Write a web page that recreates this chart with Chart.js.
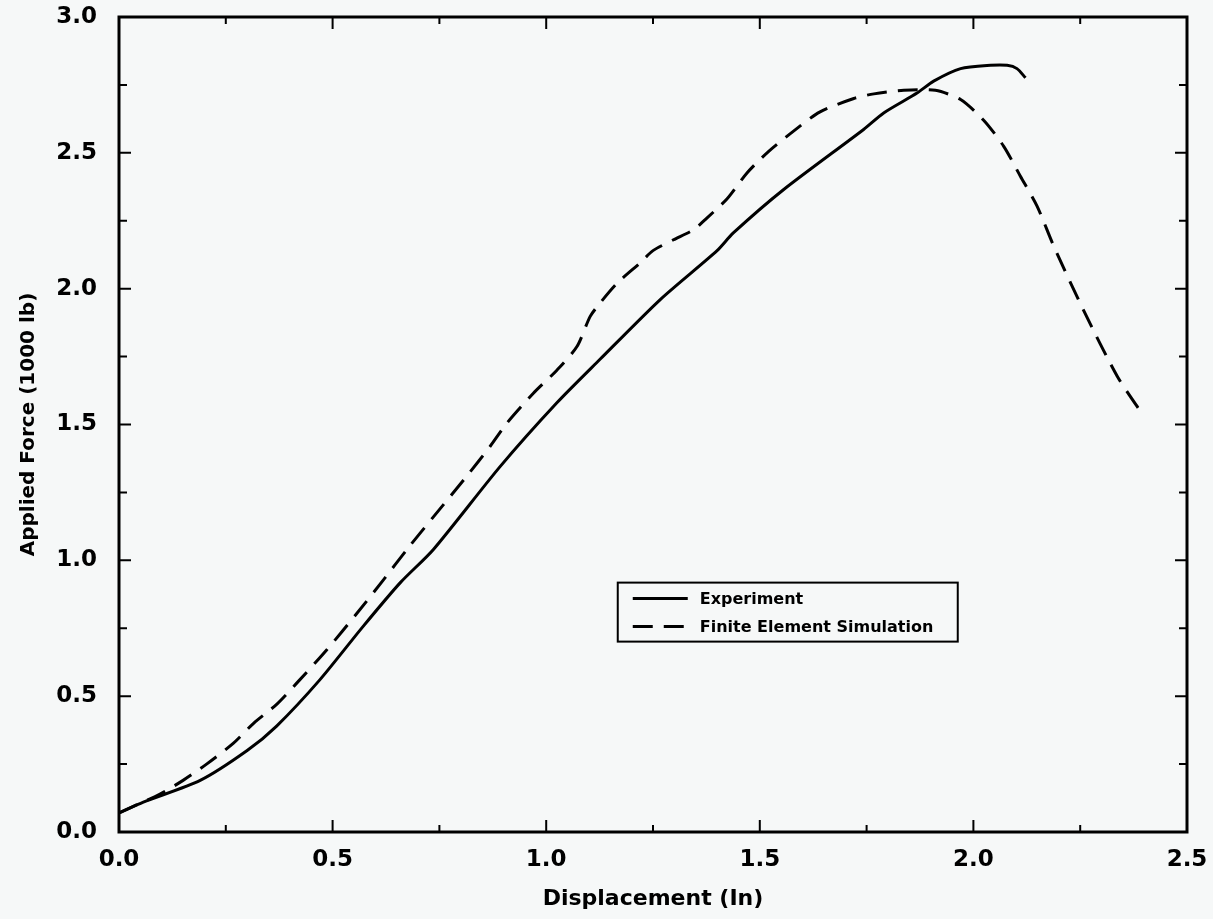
<!DOCTYPE html>
<html>
<head>
<meta charset="utf-8">
<title>Applied Force vs Displacement</title>
<script src="https://cdn.jsdelivr.net/npm/chart.js@4/dist/chart.umd.min.js"></script>
<style>
  html, body { margin: 0; padding: 0; background: #f6f8f8; }
  #wrap { width: 1213px; height: 919px; }
</style>
</head>
<body>
<div id="wrap"><canvas id="forceChart" width="1213" height="919"></canvas></div>
<script>
// measured test curve
const expDisp  = [0.0, 0.057, 0.19, 0.30, 0.369, 0.47, 0.571, 0.658, 0.736, 0.892, 1.025, 1.126, 1.267, 1.40, 1.438, 1.556, 1.743, 1.79, 1.868, 1.907, 1.97, 2.04, 2.079, 2.102, 2.122];
const expForce = [0.07, 0.11, 0.19, 0.30, 0.39, 0.56, 0.756, 0.917, 1.04, 1.345, 1.58, 1.74, 1.96, 2.14, 2.205, 2.365, 2.586, 2.647, 2.72, 2.764, 2.81, 2.822, 2.822, 2.81, 2.776];

// finite element model curve
const femDisp  = [0.0, 0.096, 0.15, 0.205, 0.268, 0.315, 0.369, 0.416, 0.486, 0.557, 0.619, 0.674, 0.736, 0.814, 0.869, 0.908, 0.97, 1.025, 1.072, 1.103, 1.126, 1.166, 1.22, 1.25, 1.298, 1.345, 1.376, 1.423, 1.47, 1.517, 1.579, 1.64, 1.72, 1.767, 1.837, 1.911, 1.97, 2.024, 2.071, 2.11, 2.149, 2.188, 2.258, 2.337, 2.399];
const femForce = [0.07, 0.14, 0.19, 0.25, 0.327, 0.40, 0.47, 0.548, 0.67, 0.805, 0.928, 1.04, 1.16, 1.31, 1.42, 1.505, 1.615, 1.70, 1.787, 1.898, 1.947, 2.02, 2.095, 2.14, 2.18, 2.217, 2.26, 2.33, 2.426, 2.50, 2.58, 2.65, 2.70, 2.717, 2.73, 2.73, 2.696, 2.62, 2.524, 2.414, 2.304, 2.157, 1.92, 1.677, 1.53];

const seriesLabels = ["Experiment", "Finite Element Simulation"];
const xTickValues = [0, 0.5, 1.0, 1.5, 2.0, 2.5];
const yTickValues = [0, 0.5, 1.0, 1.5, 2.0, 2.5, 3.0];

const toPoints = (xs, ys) => xs.map((x, i) => ({ x, y: ys[i] }));

const FONT = "'DejaVu Sans', Verdana, sans-serif";
const DASH = [20, 11];

// box around the plot with inward ticks on all four sides
const framePlugin = {
  id: "frame",
  afterDatasetsDraw(chart) {
    const { ctx, chartArea: a, scales } = chart;
    const xs = scales.x, ys = scales.y;
    ctx.save();
    ctx.strokeStyle = "#000";
    ctx.lineWidth = 3;
    ctx.strokeRect(a.left, a.top, a.right - a.left, a.bottom - a.top);
    ctx.lineWidth = 2;
    ctx.beginPath();
    for (let v = 0.25; v < 2.5; v += 0.25) {
      const px = xs.getPixelForValue(v);
      const len = (Math.round(v * 4) % 2 === 0) ? 12 : 7;
      ctx.moveTo(px, a.bottom); ctx.lineTo(px, a.bottom - len);
      ctx.moveTo(px, a.top); ctx.lineTo(px, a.top + len);
    }
    for (let v = 0.25; v < 3.0; v += 0.25) {
      const py = ys.getPixelForValue(v);
      const len = (Math.round(v * 4) % 2 === 0) ? 12 : 8;
      ctx.moveTo(a.left, py); ctx.lineTo(a.left + len, py);
      ctx.moveTo(a.right, py); ctx.lineTo(a.right - len, py);
    }
    ctx.stroke();
    ctx.restore();
  }
};

// boxed key inside the plot, built from the dataset styles
const keyPlugin = {
  id: "key",
  afterDraw(chart) {
    const { ctx, chartArea: a } = chart;
    const w = a.right - a.left, h = a.bottom - a.top;
    const left = a.left + w * 0.467, top = a.top + h * 0.694;
    const boxW = 340, boxH = 59;
    ctx.save();
    ctx.fillStyle = "#f6f8f8";
    ctx.fillRect(left, top, boxW, boxH);
    ctx.strokeStyle = "#000";
    ctx.lineWidth = 2;
    ctx.strokeRect(left, top, boxW, boxH);
    ctx.font = "bold 16px " + FONT;
    ctx.textBaseline = "middle";
    chart.data.datasets.forEach((ds, i) => {
      const y = top + 16 + i * 28;
      ctx.beginPath();
      ctx.lineWidth = 3;
      ctx.setLineDash(ds.borderDash || []);
      ctx.moveTo(left + 15, y);
      ctx.lineTo(left + 70, y);
      ctx.stroke();
      ctx.setLineDash([]);
      ctx.fillStyle = "#000";
      ctx.fillText(ds.label, left + 82, y + 1);
    });
    ctx.restore();
  }
};

new Chart(document.getElementById("forceChart").getContext("2d"), {
  type: "line",
  data: {
    datasets: [
      {
        label: seriesLabels[0],
        data: toPoints(expDisp, expForce),
        borderColor: "#000",
        borderWidth: 3,
        pointRadius: 0,
        tension: 0.25,
        fill: false
      },
      {
        label: seriesLabels[1],
        data: toPoints(femDisp, femForce),
        borderColor: "#000",
        borderWidth: 3,
        borderDash: DASH,
        pointRadius: 0,
        tension: 0.25,
        fill: false
      }
    ]
  },
  options: {
    responsive: false,
    animation: false,
    layout: { padding: 0 },
    plugins: {
      legend: { display: false },
      tooltip: { enabled: false }
    },
    scales: {
      x: {
        type: "linear",
        min: 0,
        max: 2.5,
        afterBuildTicks: s => { s.ticks = xTickValues.map(v => ({ value: v })); },
        afterFit: s => {
          s.height = 87;
          s.paddingLeft = 0;
          s.paddingRight = 26;
        },
        grid: { drawOnChartArea: false, drawTicks: false },
        border: { display: false },
        ticks: {
          padding: 14,
          color: "#000",
          font: { family: FONT, size: 23, weight: "bold" },
          callback: v => Number(v).toFixed(1)
        },
        title: {
          display: true,
          text: "Displacement (In)",
          color: "#000",
          font: { family: FONT, size: 22, weight: "bold" },
          padding: { top: 0, bottom: 7 }
        }
      },
      y: {
        type: "linear",
        min: 0,
        max: 3.0,
        afterBuildTicks: s => { s.ticks = yTickValues.map(v => ({ value: v })); },
        afterFit: s => {
          s.width = 119;
          s.paddingTop = 17;
          s.paddingBottom = 0;
        },
        grid: { drawOnChartArea: false, drawTicks: false },
        border: { display: false },
        ticks: {
          padding: 22,
          color: "#000",
          font: { family: FONT, size: 23, weight: "bold" },
          callback: v => Number(v).toFixed(1)
        },
        title: {
          display: true,
          text: "Applied Force (1000 lb)",
          color: "#000",
          font: { family: FONT, size: 20, weight: "bold" },
          padding: { top: 17, bottom: 0 }
        }
      }
    }
  },
  plugins: [framePlugin, keyPlugin]
});
</script>
</body>
</html>
